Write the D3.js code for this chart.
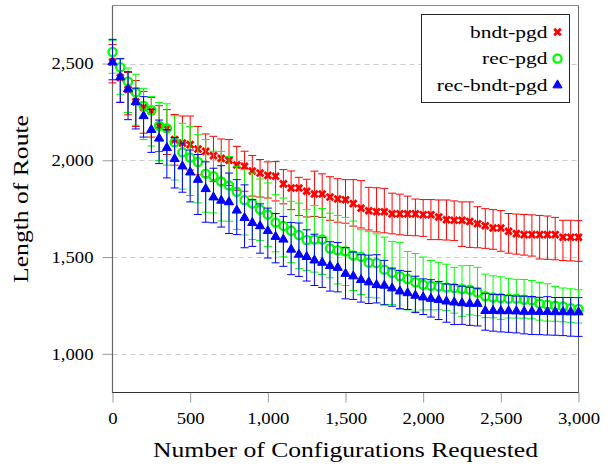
<!DOCTYPE html>
<html><head><meta charset="utf-8">
<script src="https://cdn.jsdelivr.net/npm/d3@7"></script>
<style>
body{margin:0;background:#fff}
svg{display:block}
svg text{font-family:"Liberation Serif","DejaVu Serif",serif;fill:#000}
</style>
</head><body>
<svg id="chart" width="611" height="468"></svg>
<script>
// ---------- data ----------
const configs = [0,50,100,150,200,250,300,350,400,450,500,550,600,650,700,750,800,850,900,950,
  1000,1050,1100,1150,1200,1250,1300,1350,1400,1450,1500,1550,1600,1650,1700,1750,1800,1850,1900,1950,
  2000,2050,2100,2150,2200,2250,2300,2350,2400,2450,2500,2550,2600,2650,2700,2750,2800,2850,2900,2950,3000];

const seriesNames = ["bndt-pgd","rec-pgd","rec-bndt-pgd"];

const bndtMean = [2508,2428,2366,2302,2273,2254,2177,2165,2107,2089,
  2081,2058,2046,2024,2010,2000,1976,1969,1945,1934,
  1922,1918,1878,1857,1857,1840,1826,1826,1810,1800,
  1796,1776,1753,1739,1734,1734,1723,1723,1723,1723,
  1719,1719,1707,1693,1690,1690,1684,1672,1662,1650,
  1650,1633,1621,1616,1616,1616,1616,1616,1602,1602,1602];
const bndtPlus = [90,97,88,110,83,70,105,97,130,140,
  148,117,90,100,100,107,96,78,80,70,
  70,75,74,88,55,62,118,104,105,105,
  104,124,142,121,124,121,107,102,92,77,
  78,78,88,102,100,95,101,88,88,95,
  90,92,101,104,102,99,96,89,88,88,86];
const bndtMinus = [108,128,131,127,133,134,132,135,132,129,
  131,133,131,134,135,130,131,129,130,124,
  117,128,103,112,142,133,116,121,120,120,
  121,116,103,99,104,109,103,108,111,113,
  112,129,117,105,105,135,134,124,117,110,
  120,113,106,106,111,126,128,130,120,122,124];

const recMean = [2560,2481,2407,2351,2282,2259,2179,2165,2093,2041,
  2014,1991,1931,1918,1890,1870,1837,1794,1777,1746,
  1720,1678,1661,1636,1614,1588,1591,1591,1544,1535,
  1530,1508,1501,1471,1469,1435,1419,1401,1387,1370,
  1357,1352,1348,1343,1340,1335,1331,1317,1297,1291,
  1288,1285,1285,1279,1276,1259,1254,1248,1245,1236,1231];
const recPlus = [60,46,70,94,90,71,120,127,137,150,
  161,141,176,129,156,150,132,158,157,157,
  163,144,144,152,165,157,175,160,183,180,
  175,178,140,160,151,168,162,175,142,148,
  143,130,125,120,107,120,125,130,115,112,
  110,105,100,105,103,110,108,100,95,100,100];
const recMinus = [110,140,160,170,175,185,180,190,195,190,
  196,211,199,190,204,185,194,180,186,160,
  165,151,160,165,174,157,169,181,151,174,
  177,181,195,179,180,181,165,170,160,150,
  130,125,120,120,130,141,130,120,110,105,
  110,100,100,95,95,85,85,80,80,75,72];

const recBndtMean = [2507,2430,2368,2302,2229,2158,2113,2064,2007,1969,
  1938,1900,1852,1809,1792,1784,1741,1703,1677,1660,
  1635,1605,1591,1539,1513,1501,1483,1471,1454,1445,
  1414,1401,1382,1370,1356,1353,1339,1323,1314,1301,
  1292,1285,1279,1271,1266,1262,1259,1259,1222,1222,
  1221,1221,1220,1218,1218,1217,1217,1216,1216,1215,1215];
const recBndtPlus = [118,95,90,71,100,105,95,94,110,120,
  115,130,140,150,180,150,159,170,120,115,
  118,120,119,140,163,140,135,130,125,130,
  135,125,130,140,156,130,104,108,112,100,
  95,98,95,90,92,87,85,80,90,85,
  85,80,78,80,78,75,78,75,75,76,75];
const recBndtMinus = [91,131,158,140,109,117,130,155,150,134,
  153,180,172,132,137,162,125,155,122,140,
  140,135,139,130,113,125,130,128,130,125,
  130,120,115,110,93,100,93,90,85,88,
  89,95,102,108,115,110,112,115,100,105,
  108,110,112,115,118,118,120,120,122,124,125];

const xTicks = [0,500,1000,1500,2000,2500,3000];
const yTicks = [1000,1500,2000,2500];
const xTitle = "Number of Configurations Requested";
const yTitle = "Length of Route";

// ---------- layout ----------
const FONT = "'Liberation Serif', 'DejaVu Serif', serif";
const plot = {left:112.5, right:578.5, top:5.5, bottom:392.5};
const colors = ["#ff0000","#00ff00","#0000ff"];
const markers = ["cross","circle","triangle"];

const svg = d3.select("#chart");
const x = d3.scaleLinear().domain([0,3000]).range([plot.left, plot.right]);
const y = d3.scaleLinear().domain([800,2800]).range([plot.bottom, plot.top]);
const fmt = d3.format(",");

function stretchedText(parent, txt, tx, ty, size, sx, anchor, rot){
  return parent.append("text")
    .attr("transform", `translate(${tx},${ty})` + (rot ? ` rotate(${rot})` : "") + ` scale(${sx},1)`)
    .attr("text-anchor", anchor)
    .attr("font-family", FONT)
    .style("font-family", FONT)
    .style("font-size", size + "px")
    .text(txt);
}

// grid
svg.append("g").selectAll("line").data(yTicks).join("line")
  .attr("x1", plot.left).attr("x2", plot.right)
  .attr("y1", d => Math.round(y(d)) + 0.5).attr("y2", d => Math.round(y(d)) + 0.5)
  .attr("stroke", "#cccccc").attr("stroke-width", 1).attr("stroke-dasharray", "5,4");

// axes (ticks only)
const gx = svg.append("g").attr("transform", `translate(0,${plot.bottom})`)
  .call(d3.axisBottom(x).tickValues(xTicks).tickSize(10).tickFormat(fmt));
gx.attr("font-family", FONT);
gx.select(".domain").remove();
gx.selectAll(".tick line").attr("stroke", "#999");
gx.selectAll(".tick text").attr("y", null).attr("dy", null).attr("fill", "#000")
  .attr("transform", "translate(0,31.5) scale(1.17,1)")
  .style("font-size", "16px").style("font-family", FONT);

const gy = svg.append("g").attr("transform", `translate(${plot.left},0)`)
  .call(d3.axisLeft(y).tickValues(yTicks).tickSize(10).tickFormat(fmt));
gy.attr("font-family", FONT);
gy.select(".domain").remove();
gy.selectAll(".tick line").attr("stroke", "#999");
gy.selectAll(".tick text").attr("x", null).attr("dy", null).attr("fill", "#000")
  .attr("transform", "translate(-19,5.3) scale(1.17,1)")
  .style("font-size", "16px").style("font-family", FONT);

// frame
svg.append("line").attr("x1", plot.left).attr("x2", plot.right).attr("y1", plot.top).attr("y2", plot.top).attr("stroke", "#888");
svg.append("line").attr("x1", plot.right).attr("x2", plot.right).attr("y1", plot.top).attr("y2", plot.bottom).attr("stroke", "#666");
svg.append("line").attr("x1", plot.left).attr("x2", plot.left).attr("y1", plot.top).attr("y2", plot.bottom + 0.5).attr("stroke", "#666").attr("stroke-width", 1.2);
svg.append("line").attr("x1", plot.left).attr("x2", plot.right).attr("y1", plot.bottom).attr("y2", plot.bottom).attr("stroke", "#333").attr("stroke-width", 1.2);

// marker drawing
function drawMarker(g, type, color){
  if (type === "cross") {
    g.append("path").attr("d", "M-3.3,-3.3L3.3,3.3M-3.3,3.3L3.3,-3.3")
      .attr("stroke", color).attr("stroke-width", 2.8).attr("fill", "none");
  } else if (type === "circle") {
    g.append("circle").attr("r", 4.1).attr("fill", "none")
      .attr("stroke", color).attr("stroke-width", 2.3);
  } else {
    const r = 5.3;
    g.append("path").attr("d", `M0,${-r}L${0.866*r},${0.5*r}L${-0.866*r},${0.5*r}Z`)
      .attr("fill", color).attr("stroke", color).attr("stroke-width", 1);
  }
}

const series = [
  {name: seriesNames[0], mean: bndtMean, plus: bndtPlus, minus: bndtMinus},
  {name: seriesNames[1], mean: recMean, plus: recPlus, minus: recMinus},
  {name: seriesNames[2], mean: recBndtMean, plus: recBndtPlus, minus: recBndtMinus}
];

const cap = 4;
series.forEach((s, si) => {
  const pts = configs.map((c, i) => ({c, m: s.mean[i], hi: s.mean[i] + s.plus[i], lo: s.mean[i] - s.minus[i]}));
  const gb = svg.append("g").attr("stroke", colors[si]).attr("stroke-width", 1).attr("fill", "none");
  const eb = gb.selectAll("g").data(pts).join("g");
  eb.append("line").attr("x1", d => x(d.c)).attr("x2", d => x(d.c)).attr("y1", d => y(d.hi)).attr("y2", d => y(d.lo));
  eb.append("line").attr("x1", d => x(d.c) - cap).attr("x2", d => x(d.c) + cap).attr("y1", d => y(d.hi)).attr("y2", d => y(d.hi));
  eb.append("line").attr("x1", d => x(d.c) - cap).attr("x2", d => x(d.c) + cap).attr("y1", d => y(d.lo)).attr("y2", d => y(d.lo));
  const gm = svg.append("g");
  gm.selectAll("g").data(pts).join("g")
    .attr("transform", d => `translate(${x(d.c)},${y(d.m)})`)
    .each(function(){ drawMarker(d3.select(this), markers[si], colors[si]); });
});

// legend
const leg = svg.append("g").attr("transform", "translate(421.5,14.5)");
leg.append("rect").attr("width", 148).attr("height", 88).attr("fill", "#fff").attr("stroke", "#222").attr("stroke-width", 1);
series.forEach((s, si) => {
  const cy = 17.5 + si * 26.6;
  stretchedText(leg, s.name, 126, cy + 5.5, 16.5, 1.3, "end");
  const mg = leg.append("g").attr("transform", `translate(136,${cy})`);
  drawMarker(mg, markers[si], colors[si]);
});

// titles
stretchedText(svg, xTitle, 345.5, 457.3, 22, 1.165, "middle");
stretchedText(svg, yTitle, 27.5, 199, 22, 1.165, "middle", -90);
</script>
</body></html>
